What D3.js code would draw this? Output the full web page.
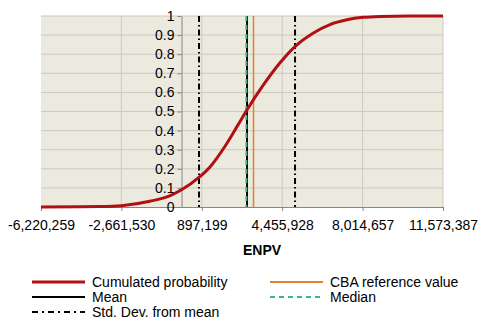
<!DOCTYPE html>
<html>
<head>
<meta charset="utf-8">
<script src="https://cdn.jsdelivr.net/npm/d3@7"></script>
<style>
  body { margin: 0; background: #fff; }
  text { font-family: "Liberation Sans", Arial, sans-serif; }
</style>
</head>
<body>
<svg id="chart" width="487" height="332"></svg>
<script>
// values
var npv  = [-6220259, -4500000, -3600000, -2660000, -1400000, -500000, 0, 770000, 1260000, 1990000, 2500000, 2880000, 3600000, 4360000, 5020000, 5820000, 6570000, 7320000, 8030000, 8790000, 10000000, 11573387];
var prob = [0, 0.001, 0.002, 0.007, 0.03, 0.06, 0.09, 0.155, 0.21, 0.33, 0.43, 0.505, 0.635, 0.755, 0.84, 0.91, 0.955, 0.98, 0.993, 0.998, 1, 1];
var xTicks = [-6220259, -2661530, 897199, 4455928, 8014657, 11573387];
var yTicks = [0, 0.1, 0.2, 0.3, 0.4, 0.5, 0.6, 0.7, 0.8, 0.9, 1];
var meanVal = 2899000;
var medianVal = 2870000;
var cbaVal = 3186000;
var sdVal = 2125000;
var legendNames = ["Cumulated probability", "CBA reference value", "Mean", "Median", "Std. Dev. from mean"];

var svg = d3.select("#chart");
var mLeft = 41, mRight = 443, mTop = 16, mBottom = 207;

var x = d3.scaleLinear().domain([xTicks[0], xTicks[xTicks.length - 1]]).range([mLeft, mRight]);
var y = d3.scaleLinear().domain([0, 1]).range([mBottom, mTop]);

var commaFmt = d3.format(",");
function fmtX(d) { return commaFmt(d).replace("\u2212", "-"); }

// plot background
svg.append("rect")
  .attr("x", mLeft).attr("y", mTop)
  .attr("width", mRight - mLeft).attr("height", mBottom - mTop)
  .attr("fill", "#ECE9DF");

// gridlines
svg.append("g").selectAll("line")
  .data(yTicks.slice(1))
  .enter().append("line")
  .attr("x1", mLeft).attr("x2", mRight)
  .attr("y1", function(d) { return y(d); })
  .attr("y2", function(d) { return y(d); })
  .attr("stroke", "#CCC9C1").attr("stroke-width", 1);

svg.append("g").selectAll("line")
  .data(xTicks.slice(1))
  .enter().append("line")
  .attr("y1", mTop).attr("y2", mBottom)
  .attr("x1", function(d) { return x(d); })
  .attr("x2", function(d) { return x(d); })
  .attr("stroke", "#CCC9C1").attr("stroke-width", 1);

// axes
var xAxis = svg.append("g")
  .attr("transform", "translate(0," + mBottom + ")")
  .call(d3.axisBottom(x).tickValues(xTicks).tickFormat(fmtX).tickSize(4).tickSizeOuter(0).tickPadding(9));
xAxis.selectAll("text").attr("font-size", 14).attr("fill", "#000").style("font-family", "Liberation Sans, Arial, sans-serif");
xAxis.selectAll("line, path").attr("stroke", "#868686");

var yAxis = svg.append("g")
  .attr("transform", "translate(" + x(0) + ",0)")
  .call(d3.axisLeft(y).tickValues(yTicks).tickFormat(d3.format("")).tickSize(4).tickSizeOuter(0).tickPadding(3));
yAxis.selectAll("text").attr("font-size", 14).attr("fill", "#000").style("font-family", "Liberation Sans, Arial, sans-serif");
yAxis.selectAll("line, path").attr("stroke", "#868686");

// reference lines
function vline(v, color, width, dash) {
  svg.append("line")
    .attr("x1", x(v)).attr("x2", x(v))
    .attr("y1", mTop).attr("y2", mBottom)
    .attr("stroke", color).attr("stroke-width", width)
    .attr("stroke-dasharray", dash || null);
}
vline(meanVal - sdVal, "#000", 2, "6,3,1.5,3");
vline(meanVal + sdVal, "#000", 2, "6,3,1.5,3");
vline(meanVal, "#000", 2);
vline(medianVal, "#3DB585", 2, "5,4");
vline(cbaVal, "#E0812F", 1.5);

// cumulative curve
var pts = npv.map(function(v, i) { return [v, prob[i]]; });
svg.append("path")
  .datum(pts)
  .attr("fill", "none")
  .attr("stroke", "#B00F14")
  .attr("stroke-width", 3)
  .attr("d", d3.line()
    .x(function(d) { return x(d[0]); })
    .y(function(d) { return y(d[1]); })
    .curve(d3.curveMonotoneX));

// x axis title
svg.append("text")
  .attr("x", 262).attr("y", 255)
  .attr("text-anchor", "middle")
  .attr("font-size", 14).attr("font-weight", "bold")
  .text("ENPV");

// legend
var legendItems = [
  { name: legendNames[0], x: 32, y: 282, color: "#B00F14", width: 3, dash: null },
  { name: legendNames[1], x: 270, y: 282, color: "#E0812F", width: 2, dash: null },
  { name: legendNames[2], x: 32, y: 297, color: "#000", width: 2, dash: null },
  { name: legendNames[3], x: 270, y: 297, color: "#3DB585", width: 2, dash: "5,4" },
  { name: legendNames[4], x: 32, y: 312, color: "#000", width: 2, dash: "6,4,2,4" }
];
var lg = svg.append("g").selectAll("g")
  .data(legendItems)
  .enter().append("g");
lg.append("line")
  .attr("x1", function(d) { return d.x; })
  .attr("x2", function(d) { return d.x + 53; })
  .attr("y1", function(d) { return d.y; })
  .attr("y2", function(d) { return d.y; })
  .attr("stroke", function(d) { return d.color; })
  .attr("stroke-width", function(d) { return d.width; })
  .attr("stroke-dasharray", function(d) { return d.dash; });
lg.append("text")
  .attr("x", function(d) { return d.x + 60; })
  .attr("y", function(d) { return d.y + 5; })
  .attr("font-size", 14)
  .text(function(d) { return d.name; });
</script>
</body>
</html>
